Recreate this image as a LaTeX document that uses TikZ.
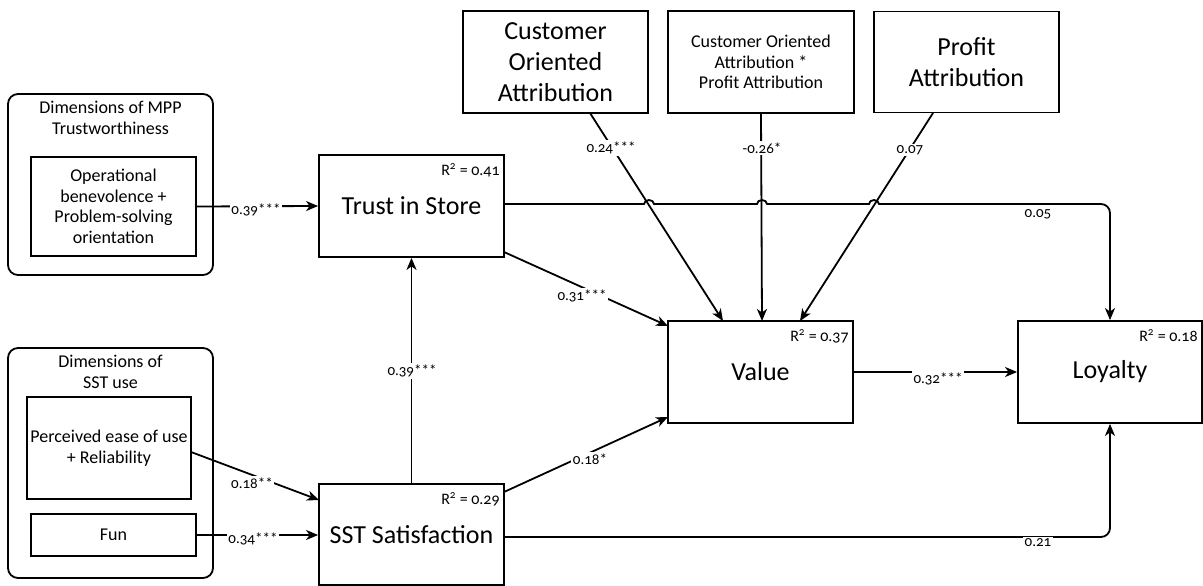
\documentclass[tikz,border=0pt]{standalone}
\usepackage{fontspec}
\setmainfont{Carlito}[Numbers=OldStyle]
\usetikzlibrary{arrows.meta}
\tikzset{
  box/.style={draw, line width=1.8pt, inner sep=0pt, align=center},
  lbl/.style={fill=white, inner sep=1.5pt, font=\fontsize{15}{15}\selectfont},
  rsq/.style={font=\fontsize{16}{16}\selectfont, anchor=north east, inner sep=0pt},
  conn/.style={line width=1.8pt, -{Stealth[length=12pt,width=10pt,inset=3.5pt]}},
  big/.style={font=\fontsize{26}{31}\selectfont},
  mid/.style={font=\fontsize{18}{20.5}\selectfont},
}
\begin{document}
\begin{tikzpicture}[x=1pt,y=-1pt]
\useasboundingbox (0,0) rectangle (1203,586);

% left groups
\node[box, rounded corners=10pt, minimum width=205pt, minimum height=181pt] (mppo) at (110.5,184.5) {};
\node[mid, align=center] (mppt) at (110.5,118) {Dimensions of MPP\\Trustworthiness};
\node[box, mid, minimum width=165pt, minimum height=99pt] (mppi) at (113.5,206.5) {Operational\\benevolence +\\Problem-solving\\orientation};

\node[box, rounded corners=10pt, minimum width=205pt, minimum height=230pt] (ssto) at (110.5,463) {};
\node[mid, align=center] (sstt) at (110.5,372) {Dimensions of\\SST use};
\node[box, mid, minimum width=164pt, minimum height=102pt] (pe) at (109,448) {Perceived ease of use\\+ Reliability};
\node[box, mid, minimum width=165pt, minimum height=42pt] (fun) at (113.5,535) {Fun};

% main constructs
\node[box, big, minimum width=185pt, minimum height=102pt] (trust) at (411.5,206) {Trust in Store};
\node[box, big, minimum width=185pt, minimum height=101pt] (sst) at (411.5,534.5) {SST Satisfaction};
\node[box, big, minimum width=185pt, minimum height=102pt] (value) at (760.5,372) {Value};
\node[box, big, minimum width=184pt, minimum height=102pt] (loyalty) at (1110,372) {Loyalty};

\node[box, big, minimum width=185pt, minimum height=102pt] (coa) at (555.5,62) {Customer\\Oriented\\Attribution};
\node[box, mid, minimum width=186pt, minimum height=102pt] (coapa) at (761,62) {Customer Oriented\\Attribution *\\Profit Attribution};
\node[box, big, minimum width=185pt, minimum height=101pt] (pa) at (966.5,62) {Profit\\Attribution};

% R squared
\node[rsq] (r1) at ([xshift=-5pt,yshift=-9pt]trust.north east) {R\textsuperscript{2} = 0.41};
\node[rsq] (r2) at ([xshift=-5pt,yshift=-9pt]sst.north east) {R\textsuperscript{2} = 0.29};
\node[rsq] (r3) at ([xshift=-5pt,yshift=-9pt]value.north east) {R\textsuperscript{2} = 0.37};
\node[rsq] (r4) at ([xshift=-5pt,yshift=-9pt]loyalty.north east) {R\textsuperscript{2} = 0.18};

% helper coordinates
\coordinate (peout) at (191,452);
\coordinate (sstin1) at (319,500);
\coordinate (trustout2) at (504,252);
\coordinate (valin1) at (668,326);
\coordinate (sstout2) at (504,492);
\coordinate (valin2) at (668,417);
\coordinate (coaout) at (590,113);
\coordinate (valtop1) at (723,321);
\coordinate (valtop2) at (762,321);
\coordinate (paout) at (933,113);
\coordinate (valtop3) at (800,321);
\coordinate (trustout1) at (504,204);
\coordinate (sstout1) at (504,537);

% connectors
\draw[conn] (mppi.east) -- (trust.west);
\draw[conn] (peout) -- (sstin1);
\draw[conn] (fun.east) -- (sst.west |- fun.east);
\draw[conn] (sst.north) -- (trust.south);
\draw[conn] (trustout2) -- (valin1);
\draw[conn] (sstout2) -- (valin2);
\draw[conn] (coaout) -- (valtop1);
\draw[conn] (coapa.south) -- (valtop2);
\draw[conn] (paout) -- (valtop3);
\draw[conn] (value.east) -- (loyalty.west);
\draw[conn] (trustout1) -- (644,204) arc[start angle=180, end angle=0, x radius=5pt, y radius=4pt]
  -- (757,204) arc[start angle=180, end angle=0, x radius=5pt, y radius=4pt]
  -- (869,204) arc[start angle=180, end angle=0, x radius=5pt, y radius=4pt]
  [rounded corners=9pt] -- (loyalty.north |- trustout1) -- (loyalty.north);
\draw[conn, rounded corners=9pt] (sstout1) -- (loyalty.south |- sstout1) -- (loyalty.south);

% labels
\node[lbl] (l1) at (256,210) {0.39***};
\node[lbl] (l2) at (252,483) {0.18**};
\node[lbl] (l3) at (253,539) {0.34***};
\node[lbl] (l4) at (412,371) {0.39***};
\node[lbl] (l5) at (582,296) {0.31***};
\node[lbl] (l6) at (590,459) {0.18*};
\node[lbl] (l7) at (611,148) {0.24***};
\node[lbl] (l8) at (762,148) {-0.26*};
\node[lbl] (l9) at (910,150) {0.07};
\node[lbl] (l10) at (938,379) {0.32***};
\node[lbl] (l11) at (1038,214) {0.05};
\node[lbl] (l12) at (1038,543) {0.21};
\end{tikzpicture}
\end{document}
